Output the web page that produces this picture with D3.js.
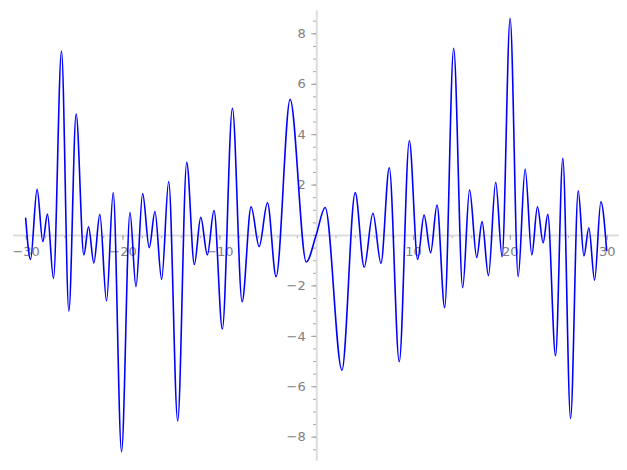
<!DOCTYPE html>
<html>
<head>
<meta charset="utf-8">
<script src="https://cdn.jsdelivr.net/npm/d3@7"></script>
<style>
  html, body { margin: 0; padding: 0; background: #ffffff; }
  svg { display: block; }
</style>
</head>
<body>
<svg id="chart" width="627" height="470"></svg>
<script>
// Points (x, y): extrema and a few crossings of the curve
const curveX = [-30, -29.5, -28.82, -28.23, -27.75, -27.13, -26.3, -25.54, -24.79, -23.99,
  -23.51, -22.96, -22.34, -21.65, -20.96, -20.1, -19.23, -18.61, -17.92, -17.24,
  -16.65, -15.96, -15.23, -14.3, -13.37, -12.58, -11.92, -11.24, -10.55, -9.69,
  -8.65, -7.65, -6.72, -5.89, -5.03, -4.14, -2.69, -1.02, 0, 0.93,
  2.66, 4.03, 4.96, 5.86, 6.69, 7.55, 8.58, 9.62, 10.48, 11.14,
  11.82, 12.48, 13.27, 14.2, 15.13, 15.84, 16.58, 17.13, 17.79, 18.54,
  19.2, 20.03, 20.86, 21.58, 22.27, 22.85, 23.44, 23.92, 24.72, 25.47,
  26.27, 27.06, 27.65, 28.16, 28.75, 29.4, 30];
const curveY = [0.66, -0.97, 1.81, -0.26, 0.83, -1.72, 7.30, -3.02, 4.80, -0.79,
  0.33, -1.11, 0.82, -2.62, 1.68, -8.6, 0.89, -2.05, 1.64, -0.50,
  0.93, -1.76, 2.12, -7.38, 2.88, -1.17, 0.70, -0.79, 0.97, -3.73,
  5.03, -2.65, 1.12, -0.46, 1.28, -1.65, 5.38, -1.07, 0, 1.09,
  -5.36, 1.68, -1.28, 0.86, -1.12, 2.67, -5.03, 3.74, -0.97, 0.79,
  -0.70, 1.19, -2.88, 7.41, -2.09, 1.79, -0.89, 0.53, -1.61, 2.09,
  -0.86, 8.6, -1.65, 2.62, -0.79, 1.12, -0.31, 0.82, -4.79, 3.04,
  -7.28, 1.75, -0.83, 0.29, -1.79, 1.32, -0.62];

const xMajorTicks = [-30, -20, -10, 10, 20, 30];
const yMajorTicks = [-8, -6, -4, -2, 2, 4, 6, 8];
const xMinorTicks = d3.range(-30, 31, 2);
const yMinorTicks = d3.range(-8.5, 8.51, 0.5);

const svg = d3.select("#chart");

const x = d3.scaleLinear().domain([-31.34, 31.2]).range([12.7, 618.3]);
const y = d3.scaleLinear().domain([-8.925, 8.925]).range([460, 10]);

const fmt = d => (d < 0 ? "\u2212" + Math.abs(d) : String(d));
const axisColor = "#dcdcdc";
const tickColor = "#9a9a9a";
const labelColor = "#808080";

// x axis minor ticks
const gxMinor = svg.append("g").attr("transform", `translate(0,${y(0)})`)
  .call(d3.axisBottom(x).tickValues(xMinorTicks).tickSize(3).tickSizeOuter(0).tickFormat(""));
// x axis major ticks
const gx = svg.append("g").attr("transform", `translate(0,${y(0)})`)
  .call(d3.axisBottom(x).tickValues(xMajorTicks).tickSize(5).tickSizeOuter(0).tickPadding(7).tickFormat(fmt));

// y axis minor ticks
const gyMinor = svg.append("g").attr("transform", `translate(${x(0)},0)`)
  .call(d3.axisLeft(y).tickValues(yMinorTicks).tickSize(3).tickSizeOuter(0).tickFormat(""));
// y axis major ticks
const gy = svg.append("g").attr("transform", `translate(${x(0)},0)`)
  .call(d3.axisLeft(y).tickValues(yMajorTicks).tickSize(5).tickSizeOuter(0).tickPadding(5.5).tickFormat(fmt));

[gxMinor, gx, gyMinor, gy].forEach(g => {
  g.select(".domain").attr("stroke", axisColor).attr("stroke-width", 1.6);
  g.selectAll(".tick line").attr("stroke", tickColor).attr("stroke-width", 0.9);
  g.selectAll(".tick text").attr("fill", labelColor)
    .attr("font-family", "DejaVu Sans, sans-serif").attr("font-size", 13);
});

// curve
const pts = curveX.map((v, i) => [v, curveY[i]]);
const line = d3.line().x(d => x(d[0])).y(d => y(d[1])).curve(d3.curveMonotoneX);
svg.append("path")
  .datum(pts)
  .attr("fill", "none")
  .attr("stroke", "#0000ff")
  .attr("stroke-width", 1.6)
  .attr("stroke-linejoin", "round")
  .attr("stroke-linecap", "round")
  .attr("d", line);
</script>
</body>
</html>
